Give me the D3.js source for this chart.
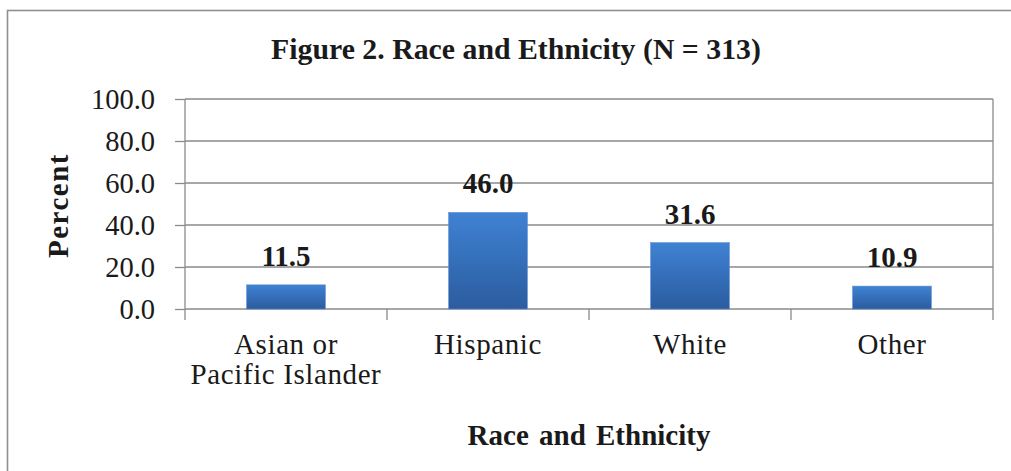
<!DOCTYPE html>
<html>
<head>
<meta charset="utf-8">
<script src="https://cdn.jsdelivr.net/npm/d3@7"></script>
<style>
  html, body { margin: 0; padding: 0; background: #fff; }
  svg { display: block; }
  text { font-family: "Liberation Serif", "Times New Roman", Times, serif; fill: #1a1a1a; }
</style>
</head>
<body>
<svg id="chart" width="1011" height="471" style="font-family: 'Liberation Serif', 'Times New Roman', serif"></svg>
<script>
// Race and ethnicity breakdown (percent of respondents)
const categories = ["Asian or Pacific Islander", "Hispanic", "White", "Other"];
const categoryLines = [["Asian or", "Pacific Islander"], ["Hispanic"], ["White"], ["Other"]];
const percents = [11.5, 46.0, 31.6, 10.9];
const yTickValues = [0, 20, 40, 60, 80, 100];

const chartTitle = "Figure 2. Race and Ethnicity (N = 313)";
const xTitle = "Race and Ethnicity";
const yTitle = "Percent";

const svg = d3.select("#chart");
const plot = { left: 185, right: 993, top: 99, bottom: 309 };
const gridColor = "#8a8a8a";
const serif = "'Liberation Serif', 'Times New Roman', serif";

// outer frame
svg.append("rect")
  .attr("x", 7.5).attr("y", 10.5)
  .attr("width", 1020).attr("height", 480)
  .attr("fill", "#fff")
  .attr("stroke", "#8f8f8f")
  .attr("stroke-width", 1.6);

const x = d3.scaleBand()
  .domain(categories)
  .range([plot.left, plot.right])
  .paddingInner(0.61)
  .paddingOuter(0.305);

const y = d3.scaleLinear()
  .domain([0, 100])
  .range([plot.bottom, plot.top]);

// bar gradient
const defs = svg.append("defs");
const grad = defs.append("linearGradient")
  .attr("id", "barFill").attr("x1", 0).attr("y1", 0).attr("x2", 0).attr("y2", 1);
grad.append("stop").attr("offset", "0%").attr("stop-color", "#3f82d3");
grad.append("stop").attr("offset", "100%").attr("stop-color", "#2b5c9f");

// horizontal gridlines
svg.append("g")
  .selectAll("line")
  .data(yTickValues)
  .join("line")
  .attr("x1", plot.left).attr("x2", plot.right)
  .attr("y1", d => y(d)).attr("y2", d => y(d))
  .attr("stroke", gridColor).attr("stroke-width", 1.3);

// right plot edge
svg.append("line")
  .attr("x1", plot.right).attr("x2", plot.right)
  .attr("y1", plot.top).attr("y2", plot.bottom)
  .attr("stroke", gridColor).attr("stroke-width", 1.3);

// y axis
const yAxis = svg.append("g")
  .attr("transform", `translate(${plot.left},0)`)
  .call(d3.axisLeft(y).tickValues(yTickValues).tickFormat(d3.format(".1f")).tickSize(10).tickPadding(20));
yAxis.attr("font-family", null);
yAxis.select(".domain").attr("stroke", gridColor).attr("stroke-width", 1.3)
  .attr("d", `M0,${plot.top}V${plot.bottom + 11}`);
yAxis.selectAll(".tick line").attr("stroke", gridColor).attr("stroke-width", 1.3);
yAxis.selectAll(".tick text")
  .style("font-size", "28.5px")
  .style("font-family", serif)
  .attr("fill", "#1a1a1a")
  .attr("dy", "0.34em");

// x axis: tick marks at category boundaries
const boundaries = categories.map(c => x(c) - x.step() * x.paddingInner() / 2 + x.step());
svg.append("g")
  .selectAll("line")
  .data(boundaries)
  .join("line")
  .attr("x1", d => d).attr("x2", d => d)
  .attr("y1", plot.bottom).attr("y2", plot.bottom + 11)
  .attr("stroke", gridColor).attr("stroke-width", 1.3);

// bars
svg.append("g")
  .selectAll("rect")
  .data(percents)
  .join("rect")
  .attr("x", (d, i) => x(categories[i]))
  .attr("y", d => y(d))
  .attr("width", x.bandwidth())
  .attr("height", d => y(0) - y(d))
  .attr("fill", "url(#barFill)")
  .attr("stroke", "#5b8fd0")
  .attr("stroke-width", 0.6);

// value labels
svg.append("g")
  .selectAll("text")
  .data(percents)
  .join("text")
  .attr("x", (d, i) => x(categories[i]) + x.bandwidth() / 2)
  .attr("y", d => y(d) - 19)
  .attr("text-anchor", "middle")
  .style("font-family", serif)
  .style("font-size", "29px")
  .style("font-weight", "bold")
  .text(d => d.toFixed(1));

// category labels (one text per line)
const catG = svg.append("g");
categoryLines.forEach((lines, i) => {
  lines.forEach((ln, j) => {
    catG.append("text")
      .attr("x", x(categories[i]) + x.bandwidth() / 2)
      .attr("y", 354 + j * 30)
      .attr("text-anchor", "middle")
      .style("font-family", serif)
      .style("font-size", "29px")
      .style("letter-spacing", "0.6px")
      .text(ln);
  });
});

// chart title
svg.append("text")
  .attr("x", 516).attr("y", 59)
  .attr("text-anchor", "middle")
  .style("font-family", serif)
  .style("font-size", "29.8px")
  .style("font-weight", "bold")
  .text(chartTitle);

// x axis title
svg.append("text")
  .attr("x", (plot.left + plot.right) / 2).attr("y", 445)
  .attr("text-anchor", "middle")
  .style("font-family", serif)
  .style("font-size", "29px")
  .style("font-weight", "bold")
  .style("word-spacing", "3px")
  .text(xTitle);

// y axis title
svg.append("text")
  .attr("transform", "translate(68,205.5) rotate(-90)")
  .attr("text-anchor", "middle")
  .style("font-family", serif)
  .style("font-size", "29px")
  .style("font-weight", "bold")
  .style("letter-spacing", "1.5px")
  .text(yTitle);
</script>
</body>
</html>
